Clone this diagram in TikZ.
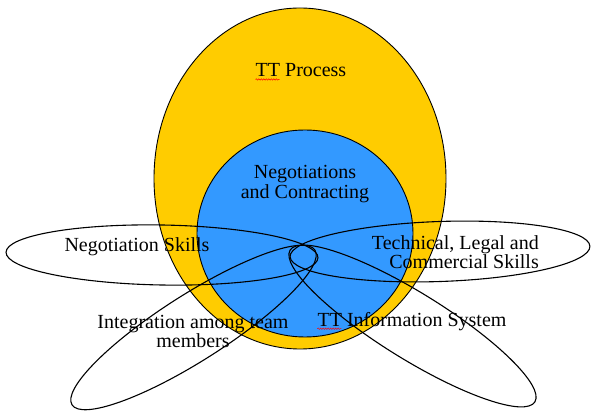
\documentclass[tikz,border=0pt]{standalone}
\usepackage{fontspec}
\setmainfont{Liberation Serif}
\usetikzlibrary{decorations.pathmorphing}
\definecolor{ttyellow}{RGB}{255,204,0}
\definecolor{ttblue}{RGB}{51,153,255}

\begin{document}
\begin{tikzpicture}[x=1pt, y=-1pt,
        petal/.style={draw=black, line width=1.1pt},
        lbl/.style={inner sep=0pt, font=\fontsize{20}{18}\selectfont, align=center},
        typo/.style={red, line width=0.5pt, decorate, decoration={snake, amplitude=0.7pt, segment length=2.5pt}}]
        \useasboundingbox (0,0) rectangle (592,411);

        \draw[fill=ttyellow, line width=0.9pt] (300,178.5) ellipse [x radius=146, y radius=170.5];
        \draw[fill=ttblue, line width=0.9pt] (305,233.5) ellipse [x radius=108, y radius=103.5];

        \draw[petal, rotate around={-1:(162,255)}] (162,255) ellipse [x radius=156, y radius=30];
        \draw[petal, rotate around={2:(440,251.5)}] (440,251.5) ellipse [x radius=150, y radius=30];
        \draw[petal, rotate around={32.5:(193.5,327.5)}] (193.5,327.5) ellipse [x radius=144, y radius=33];
        \draw[petal, rotate around={-31.8:(412.5,326)}] (412.5,326) ellipse [x radius=144, y radius=33];

        \node[lbl] (tp) at (301,70.5) {TT Process};
        \node[lbl] (nc) at (305,184) {Negotiations\\and Contracting};
        \node[lbl] (ns) at (137,247) {Negotiation Skills};
        \node[lbl, align=right, anchor=east] (tls) at (539,252) {Technical, Legal and\\Commercial Skills};
        \node[lbl] (iat) at (193,331.5) {Integration among team\\members};
        \node[lbl] (tis) at (412,321.3) {TT Information System};

        \draw[typo] ([yshift=-2.5pt]tp.base west) -- ++(24,0);
        \draw[typo] ([yshift=-2.5pt]tis.base west) -- ++(24,0);
\end{tikzpicture}
\end{document}
